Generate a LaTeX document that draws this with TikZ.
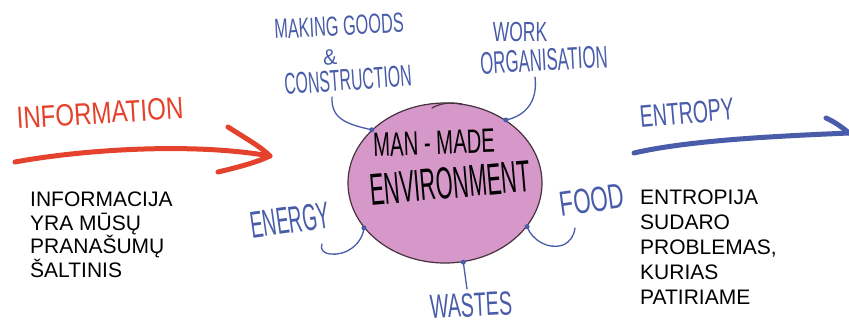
\documentclass[tikz,border=0pt]{standalone}
\usepackage{fontspec}
\setmainfont{Liberation Sans}
\newfontfamily\handfont{Liberation Sans}
\usetikzlibrary{shapes.geometric}
\definecolor{penblue}{RGB}{72,92,170}
\definecolor{penred}{RGB}{228,66,44}
\definecolor{blobfill}{RGB}{214,152,201}
\definecolor{blobline}{RGB}{70,50,62}
\tikzset{
  hand/.style={inner sep=0pt, transform shape, font=\handfont},
  bluehand/.style={hand, text=penblue},
  bodytext/.style={inner sep=0pt, align=left, anchor=north west, text=black},
  link/.style={draw=penblue, line width=1.3pt, line cap=round},
  dotpt/.style={circle, fill=penblue, inner sep=0pt, minimum size=5pt},
}
\begin{document}
\begin{tikzpicture}[x=1pt,y=-1pt]
\path[use as bounding box] (0,0) rectangle (849,322);
\fill[white] (0,0) rectangle (849,322);

% central blob
\node[ellipse, draw=blobline, line width=1.2pt, fill=blobfill,
      minimum width=194pt, minimum height=160pt, inner sep=0pt] (env) at (445,183) {};
\draw[blobline, line width=1.2pt, line cap=round] (432,108) .. controls (440,103) and (452,102) .. (462,104);
\node[hand, font=\handfont\fontsize{26}{26}\selectfont, rotate=2, xscale=0.78, yscale=1.3] (man) at (434,143) {MAN - MADE};
\node[hand, font=\handfont\fontsize{32}{32}\selectfont, rotate=5, xscale=0.68, yscale=1.4] (envtxt) at (450,183) {ENVIRONMENT};

% red arrow
\coordinate (rs) at (15,162);
\coordinate (rt) at (270,156);
\coordinate (ru) at (228,127);
\coordinate (rl) at (218,172);
\draw[penred, line width=5pt, line cap=round, line join=round]
  (rs) .. controls (80,150) and (190,142) .. (rt);
\draw[penred, line width=5pt, line cap=round, line join=round]
  (ru) .. controls (245,138) and (260,146) .. (rt) .. controls (255,163) and (235,168) .. (rl);
\node[hand, text=penred, font=\handfont\fontsize{28}{28}\selectfont, rotate=3.5, xscale=0.86, yscale=1.1] (info) at (100,113) {INFORMATION};

% blue arrow
\coordinate (bs) at (634,153);
\coordinate (bt) at (849,133);
\coordinate (bu) at (826,118);
\draw[penblue, line width=5pt, line cap=round, line join=round]
  (bs) .. controls (690,140) and (780,136) .. (bt);
\draw[penblue, line width=5pt, line cap=round, line join=round]
  (bu) .. controls (835,122) and (843,128) .. (bt);
\node[bluehand, font=\handfont\fontsize{26}{26}\selectfont, rotate=5, xscale=0.75, yscale=1.2] (entropy) at (687,113) {ENTROPY};

% labels
\node[bluehand, font=\handfont\fontsize{24}{24}\selectfont, rotate=3, xscale=0.68, yscale=1.15] (making) at (339,26) {MAKING GOODS};
\node[bluehand, font=\handfont\fontsize{22}{22}\selectfont, rotate=5, xscale=0.95] (amp) at (330,57) {\&};
\node[bluehand, font=\handfont\fontsize{24}{24}\selectfont, rotate=4, xscale=0.66, yscale=1.25] (constr) at (348,80) {CONSTRUCTION};
\node[bluehand, font=\handfont\fontsize{24}{24}\selectfont, xscale=0.73, yscale=1.15] (work) at (520,32) {WORK};
\node[bluehand, font=\handfont\fontsize{24}{24}\selectfont, rotate=3, xscale=0.7, yscale=1.3] (organ) at (544,60) {ORGANISATION};
\node[bluehand, font=\handfont\fontsize{26}{26}\selectfont, rotate=8, xscale=0.73, yscale=1.45] (energy) at (290,220) {ENERGY};
\node[bluehand, font=\handfont\fontsize{28}{28}\selectfont, rotate=8, xscale=0.8, yscale=1.25] (food) at (592,200) {FOOD};
\node[bluehand, font=\handfont\fontsize{28}{28}\selectfont, rotate=3, xscale=0.7, yscale=1.2] (wastes) at (471,305) {WASTES};

% attachment dots
\node[dotpt] (d1) at (env.144) {};
\node[dotpt] (d2) at (env.46) {};
\node[dotpt] (d3) at (env.209) {};
\node[dotpt] (d4) at (env.-28) {};
\node[dotpt] (d5) at (env.-77) {};

% connectors
\coordinate (c1) at (332,97);
\coordinate (c2) at (535,77);
\coordinate (c3) at (322,244);
\coordinate (c4) at (575,228);
\coordinate (c5) at (467,289);
\draw[link] (c1) .. controls (331,118) and (345,124) .. (d1.center);
\draw[link] (c2) .. controls (538,102) and (525,116) .. (d2.center);
\draw[link] (d3.center) .. controls (362,245) and (345,256) .. (330,254) .. controls (323,253) and (320,249) .. (c3);
\draw[link] (d4.center) .. controls (532,240) and (548,250) .. (563,245) .. controls (570,242) and (574,236) .. (c4);
\draw[link] (d5.center) -- (c5);

% body text
\node[bodytext, font=\fontsize{21}{23.5}\selectfont] (lt) at (30,192)
  {INFORMACIJA\\YRA MŪSŲ\\PRANAŠUMŲ\\ŠALTINIS};
\node[bodytext, font=\fontsize{21}{25}\selectfont] (rtxt) at (640,190)
  {ENTROPIJA\\SUDARO\\PROBLEMAS,\\KURIAS\\PATIRIAME};
\end{tikzpicture}
\end{document}
